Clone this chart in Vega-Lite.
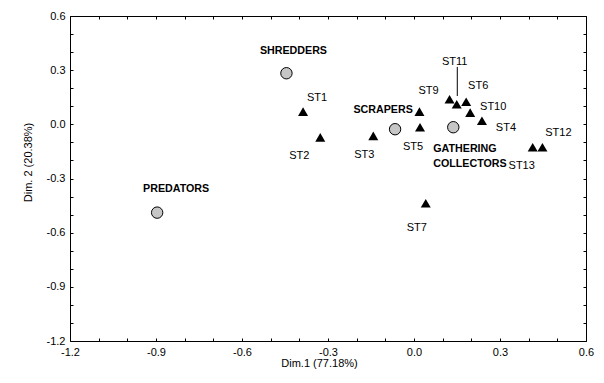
{
  "$schema": "https://vega.github.io/schema/vega-lite/v6.json",
  "width": 516,
  "height": 325,
  "autosize": "none",
  "padding": {"left": 70, "top": 16, "right": 18, "bottom": 42},
  "background": "white",
  "config": {
    "view": {"stroke": "#000", "strokeWidth": 1},
    "font": "Liberation Sans",
    "text": {"font": "Liberation Sans", "fontSize": 11, "color": "#000"}
  },
  "datasets": {
    "points": [
      {"name": "SHREDDERS", "kind": "group", "x": -0.445, "y": 0.283},
      {"name": "SCRAPERS", "kind": "group", "x": -0.066, "y": -0.027},
      {"name": "GATHERING COLLECTORS", "kind": "group", "x": 0.137, "y": -0.016},
      {"name": "PREDATORS", "kind": "group", "x": -0.896, "y": -0.489},
      {"name": "ST1", "kind": "station", "x": -0.387, "y": 0.07},
      {"name": "ST2", "kind": "station", "x": -0.327, "y": -0.072},
      {"name": "ST3", "kind": "station", "x": -0.142, "y": -0.064},
      {"name": "ST4", "kind": "station", "x": 0.237, "y": 0.02},
      {"name": "ST5", "kind": "station", "x": 0.021, "y": -0.016},
      {"name": "ST6", "kind": "station", "x": 0.182, "y": 0.125},
      {"name": "ST7", "kind": "station", "x": 0.041, "y": -0.437},
      {"name": "ST8", "kind": "station", "x": 0.019, "y": 0.07},
      {"name": "ST9", "kind": "station", "x": 0.124, "y": 0.139},
      {"name": "ST10", "kind": "station", "x": 0.196, "y": 0.065},
      {"name": "ST11", "kind": "station", "x": 0.149, "y": 0.111},
      {"name": "ST12", "kind": "station", "x": 0.448, "y": -0.127},
      {"name": "ST13", "kind": "station", "x": 0.414, "y": -0.127}
    ],
    "leaders": [
      {"x": 0.151, "y": 0.157, "y2": 0.318}
    ]
  },
  "data": {"name": "points"},
  "encoding": {
    "x": {"field": "x", "type": "quantitative", "scale": {"domain": [-1.2, 0.6], "nice": false, "zero": false}, "axis": null},
    "y": {"field": "y", "type": "quantitative", "scale": {"domain": [-1.2, 0.6], "nice": false, "zero": false}, "axis": null}
  },
  "layer": [
    {
      "data": {"name": "leaders"},
      "mark": {"type": "rule", "color": "#000", "strokeWidth": 1},
      "encoding": {"y2": {"field": "y2"}}
    },
    {
      "transform": [{"filter": {"field": "kind", "equal": "group"}}],
      "mark": {"type": "point", "shape": "circle", "filled": true, "fill": "#c6c6c6", "stroke": "#000", "strokeWidth": 1, "size": 130, "opacity": 1},
      "encoding": {
        "x": {"field": "x", "type": "quantitative", "scale": {"domain": [-1.2, 0.6], "nice": false, "zero": false},
          "axis": {"orient": "bottom", "values": [-1.2, -1.1, -1.0, -0.9, -0.8, -0.7, -0.6, -0.5, -0.4, -0.3, -0.2, -0.1, 0, 0.1, 0.2, 0.3, 0.4, 0.5, 0.6],
            "domain": false, "grid": false, "tickSize": -3, "tickColor": "#000", "tickWidth": 1,
            "labelExpr": "round(datum.value*10)%3==0 ? replace(format(datum.value,'.1f'),'\u2212','-') : ''",
            "labelFont": "Liberation Sans", "labelFontSize": 11, "labelColor": "#000", "labelPadding": 8, "labelFlush": false, "labelOverlap": false,
            "title": "Dim.1 (77.18%)", "titleFont": "Liberation Sans", "titleFontSize": 11, "titleFontWeight": "normal", "titleColor": "#000",
            "titleX": 249, "titleY": 22, "titleBaseline": "middle", "titleAlign": "center"}},
        "y": {"field": "y", "type": "quantitative", "scale": {"domain": [-1.2, 0.6], "nice": false, "zero": false},
          "axis": {"orient": "left", "values": [-1.2, -1.1, -1.0, -0.9, -0.8, -0.7, -0.6, -0.5, -0.4, -0.3, -0.2, -0.1, 0, 0.1, 0.2, 0.3, 0.4, 0.5, 0.6],
            "domain": false, "grid": false, "tickSize": -3, "tickColor": "#000", "tickWidth": 1,
            "labelExpr": "round(datum.value*10)%3==0 ? replace(format(datum.value,'.1f'),'\u2212','-') : ''",
            "labelFont": "Liberation Sans", "labelFontSize": 11, "labelColor": "#000", "labelPadding": 8, "labelFlush": false, "labelOverlap": false,
            "title": "Dim. 2 (20.38%)", "titleFont": "Liberation Sans", "titleFontSize": 11, "titleFontWeight": "normal", "titleColor": "#000",
            "titleX": -42, "titleY": 146, "titleBaseline": "middle", "titleAlign": "center"}}
      }
    },
    {
      "transform": [{"filter": {"field": "kind", "equal": "station"}}],
      "mark": {"type": "point", "shape": "triangle-up", "filled": true, "color": "#000", "size": 100, "opacity": 1},
      "encoding": {
        "x": {"field": "x", "type": "quantitative", "scale": {"domain": [-1.2, 0.6], "nice": false, "zero": false},
          "axis": {"orient": "top", "values": [-1.2, -1.1, -1.0, -0.9, -0.8, -0.7, -0.6, -0.5, -0.4, -0.3, -0.2, -0.1, 0, 0.1, 0.2, 0.3, 0.4, 0.5, 0.6],
            "domain": false, "grid": false, "tickSize": -3, "tickColor": "#000", "labels": false, "title": null}},
        "y": {"field": "y", "type": "quantitative", "scale": {"domain": [-1.2, 0.6], "nice": false, "zero": false},
          "axis": {"orient": "right", "values": [-1.2, -1.1, -1.0, -0.9, -0.8, -0.7, -0.6, -0.5, -0.4, -0.3, -0.2, -0.1, 0, 0.1, 0.2, 0.3, 0.4, 0.5, 0.6],
            "domain": false, "grid": false, "tickSize": -3, "tickColor": "#000", "labels": false, "title": null}}
      }
    },
    {"transform": [{"filter": {"field": "name", "equal": "SHREDDERS"}}], "mark": {"type": "text", "fontWeight": "bold", "fontSize": 10.7, "dx": 7, "dy": -22}, "encoding": {"text": {"field": "name"}}},
    {"transform": [{"filter": {"field": "name", "equal": "PREDATORS"}}], "mark": {"type": "text", "fontWeight": "bold", "fontSize": 10.7, "dx": 19, "dy": -24}, "encoding": {"text": {"field": "name"}}},
    {"transform": [{"filter": {"field": "name", "equal": "SCRAPERS"}}], "mark": {"type": "text", "fontWeight": "bold", "fontSize": 10.7, "dx": -12, "dy": -19}, "encoding": {"text": {"field": "name"}}},
    {"transform": [{"filter": {"field": "name", "equal": "GATHERING COLLECTORS"}}], "mark": {"type": "text", "fontWeight": "bold", "fontSize": 10.7, "align": "left", "baseline": "alphabetic", "lineBreak": " ", "lineHeight": 14.6, "dx": -20, "dy": 25}, "encoding": {"text": {"field": "name"}}},
    {"transform": [{"filter": {"field": "name", "equal": "ST1"}}], "mark": {"type": "text", "dx": 14, "dy": -14}, "encoding": {"text": {"field": "name"}}},
    {"transform": [{"filter": {"field": "name", "equal": "ST2"}}], "mark": {"type": "text", "dx": -21, "dy": 19}, "encoding": {"text": {"field": "name"}}},
    {"transform": [{"filter": {"field": "name", "equal": "ST3"}}], "mark": {"type": "text", "dx": -9, "dy": 19}, "encoding": {"text": {"field": "name"}}},
    {"transform": [{"filter": {"field": "name", "equal": "ST4"}}], "mark": {"type": "text", "dx": 24, "dy": 7}, "encoding": {"text": {"field": "name"}}},
    {"transform": [{"filter": {"field": "name", "equal": "ST5"}}], "mark": {"type": "text", "dx": -7, "dy": 20}, "encoding": {"text": {"field": "name"}}},
    {"transform": [{"filter": {"field": "name", "equal": "ST6"}}], "mark": {"type": "text", "dx": 12, "dy": -16}, "encoding": {"text": {"field": "name"}}},
    {"transform": [{"filter": {"field": "name", "equal": "ST7"}}], "mark": {"type": "text", "dx": -9, "dy": 25}, "encoding": {"text": {"field": "name"}}},
    {"transform": [{"filter": {"field": "name", "equal": "ST9"}}], "mark": {"type": "text", "dx": -21, "dy": -8}, "encoding": {"text": {"field": "name"}}},
    {"transform": [{"filter": {"field": "name", "equal": "ST10"}}], "mark": {"type": "text", "dx": 23, "dy": -6}, "encoding": {"text": {"field": "name"}}},
    {"transform": [{"filter": {"field": "name", "equal": "ST11"}}], "mark": {"type": "text", "dx": -2, "dy": -42}, "encoding": {"text": {"field": "name"}}},
    {"transform": [{"filter": {"field": "name", "equal": "ST12"}}], "mark": {"type": "text", "dx": 16, "dy": -14}, "encoding": {"text": {"field": "name"}}},
    {"transform": [{"filter": {"field": "name", "equal": "ST13"}}], "mark": {"type": "text", "dx": -11, "dy": 19}, "encoding": {"text": {"field": "name"}}}
  ]
}
